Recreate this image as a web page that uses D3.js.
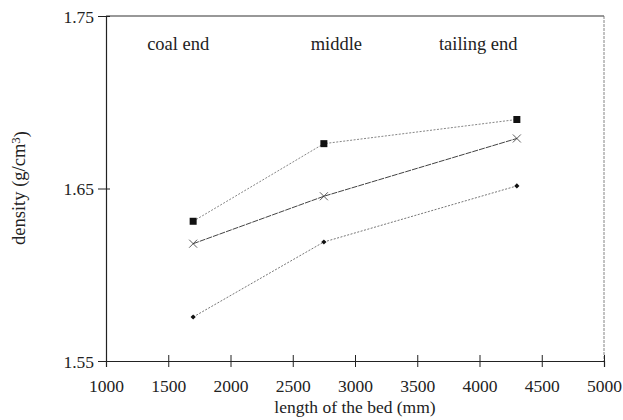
<!DOCTYPE html>
<html>
<head>
<meta charset="utf-8">
<script src="https://cdn.jsdelivr.net/npm/d3@7"></script>
<style>
  body { margin: 0; background: #fff; }
</style>
</head>
<body>
<div id="chart"></div>
<script>
// bed positions (mm)
var positions = [1700, 2750, 4300];
// density series
var densityTop = [1.631, 1.676, 1.690];
var densityMid = [1.618, 1.6455, 1.679];
var densityLow = [1.5755, 1.619, 1.6515];

var regionLabels = ["coal end", "middle", "tailing end"];
var regionLabelX = [1580, 2850, 3990];
var xTicks = [1000, 1500, 2000, 2500, 3000, 3500, 4000, 4500, 5000];
var yTicks = [1.55, 1.65, 1.75];

var serif = "Liberation Serif";
var width = 623, height = 420;
var margin = { top: 16, right: 19, bottom: 59, left: 106 };

var svg = d3.select("#chart").append("svg")
    .attr("width", width)
    .attr("height", height);

var x = d3.scaleLinear().domain([1000, 5000]).range([margin.left, width - margin.right]);
var y = d3.scaleLinear().domain([1.55, 1.75]).range([height - margin.bottom, margin.top]);

// frame: top and right
svg.append("line")
    .attr("x1", x(1000)).attr("x2", x(5000))
    .attr("y1", y(1.75)).attr("y2", y(1.75))
    .attr("stroke", "#333").attr("stroke-width", 1.2);
svg.append("line")
    .attr("x1", x(5000)).attr("x2", x(5000))
    .attr("y1", y(1.75)).attr("y2", y(1.55))
    .attr("stroke", "#666").attr("stroke-width", 0.8)
    .attr("stroke-dasharray", "3,1");

// x axis, ticks cross the line
var xAxis = svg.append("g")
    .attr("transform", "translate(0," + y(1.55) + ")")
    .call(d3.axisBottom(x).tickValues(xTicks).tickSize(6).tickFormat(d3.format("d")));
xAxis.attr("font-family", serif).attr("font-size", 17.5);
xAxis.selectAll(".tick line").attr("y1", -6).attr("stroke", "#222");
xAxis.select(".domain").attr("stroke", "#222").attr("stroke-width", 1.2);
xAxis.selectAll(".tick text")
    .attr("dy", "0")
    .attr("y", 31)
    .attr("fill", "#222");

// y axis
var yAxis = svg.append("g")
    .attr("transform", "translate(" + x(1000) + ",0)")
    .call(d3.axisLeft(y).tickValues(yTicks).tickSize(8).tickFormat(d3.format(".2f")));
yAxis.attr("font-family", serif).attr("font-size", 17.5);
yAxis.selectAll(".tick line").attr("x2", 4).attr("x1", -8).attr("stroke", "#222");
yAxis.select(".domain").attr("stroke", "#222").attr("stroke-width", 1.2);
yAxis.selectAll(".tick text")
    .attr("x", -12)
    .attr("dy", "0.35em")
    .attr("fill", "#222");

// axis titles
svg.append("text")
    .attr("x", (x(1000) + x(5000)) / 2)
    .attr("y", 413)
    .attr("text-anchor", "middle")
    .attr("fill", "#222")
    .attr("font-family", serif)
    .attr("font-size", 17.5)
    .text("length of the bed (mm)");

var yTitle = svg.append("text")
    .attr("transform", "translate(25,188) rotate(-90)")
    .attr("text-anchor", "middle")
    .attr("fill", "#222")
    .attr("font-family", serif)
    .attr("font-size", 18.5);
yTitle.append("tspan").text("density (g/cm");
yTitle.append("tspan").attr("dy", "-0.4em").attr("font-size", 13).text("3");
yTitle.append("tspan").attr("dy", "0.4em").text(")");

// region labels
svg.selectAll(".region")
    .data(regionLabels)
    .enter().append("text")
    .attr("class", "region")
    .attr("x", function (d, i) { return x(regionLabelX[i]); })
    .attr("y", 50)
    .attr("text-anchor", "middle")
    .attr("fill", "#222")
    .attr("font-family", serif)
    .attr("font-size", 18.5)
    .text(function (d) { return d; });

var line = d3.line()
    .x(function (d) { return x(d[0]); })
    .y(function (d) { return y(d[1]); });

function series(vals) {
    return positions.map(function (p, i) { return [p, vals[i]]; });
}

// lines
svg.append("path").datum(series(densityTop))
    .attr("d", line).attr("fill", "none")
    .attr("stroke", "#777").attr("stroke-width", 0.9)
    .attr("stroke-dasharray", "2,1.5");
svg.append("path").datum(series(densityMid))
    .attr("d", line).attr("fill", "none")
    .attr("stroke", "#444").attr("stroke-width", 1)
    .attr("stroke-dasharray", "6,1");
svg.append("path").datum(series(densityLow))
    .attr("d", line).attr("fill", "none")
    .attr("stroke", "#666").attr("stroke-width", 0.9)
    .attr("stroke-dasharray", "2,1.5");

// markers: squares
svg.selectAll(".sq")
    .data(series(densityTop))
    .enter().append("rect")
    .attr("x", function (d) { return x(d[0]) - 3.5; })
    .attr("y", function (d) { return y(d[1]) - 3.5; })
    .attr("width", 7).attr("height", 7)
    .attr("fill", "#111");

// crosses
svg.selectAll(".cx")
    .data(series(densityMid))
    .enter().append("path")
    .attr("d", function (d) {
        var cx = x(d[0]), cy = y(d[1]), s = 4;
        return "M" + (cx - s) + "," + (cy - s) + "L" + (cx + s) + "," + (cy + s) +
            "M" + (cx - s) + "," + (cy + s) + "L" + (cx + s) + "," + (cy - s);
    })
    .attr("stroke", "#333").attr("stroke-width", 0.8);

// small diamonds
svg.selectAll(".dm")
    .data(series(densityLow))
    .enter().append("path")
    .attr("d", function (d) {
        var cx = x(d[0]), cy = y(d[1]), s = 2.6;
        return "M" + cx + "," + (cy - s) + "L" + (cx + s) + "," + cy +
            "L" + cx + "," + (cy + s) + "L" + (cx - s) + "," + cy + "Z";
    })
    .attr("fill", "#111");
</script>
</body>
</html>
